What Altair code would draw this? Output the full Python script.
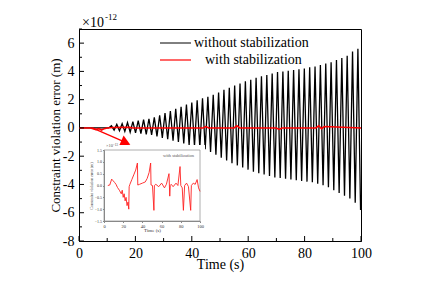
import altair as alt
import pandas as pd

W, H = 282, 212
FONT = "Liberation Serif"

# ---- main series: peaks of the unstabilised oscillation (x1e-12 m) ----
first_peak = 11.5
period = 1.9
upper_amp = [0.15, 0.25, 0.3, 0.38, 0.45, 0.52, 0.58, 0.65, 0.75, 0.9,
             1.05, 1.2, 1.35, 1.5, 1.65, 1.8, 1.95, 2.1, 2.2, 2.35,
             2.5, 2.7, 2.85, 3.0, 3.15, 3.3, 3.4, 3.55, 3.65, 3.75,
             3.85, 3.95, 4.0, 4.05, 4.1, 4.15, 4.2, 4.3, 4.35, 4.45,
             4.55, 4.65, 4.8, 4.95, 5.1, 5.4, 5.6]
lower_amp = [-0.15, -0.2, -0.25, -0.3, -0.35, -0.4, -0.45, -0.5, -0.6, -0.7,
             -0.8, -0.9, -1.0, -1.1, -1.2, -1.3, -1.4, -1.5, -1.7, -1.9,
             -2.1, -2.3, -2.5, -2.65, -2.8, -2.95, -3.1, -3.2, -3.3, -3.4,
             -3.5, -3.55, -3.6, -3.65, -3.7, -3.75, -3.8, -3.85, -3.95, -4.05,
             -4.2, -4.4, -4.6, -4.8, -5.0, -5.3, -5.8]

black_t = [0.0, 10.5]
black_v = [0.0, 0.0]
for k, (u, l) in enumerate(zip(upper_amp, lower_amp)):
    black_t += [first_peak + period * k, first_peak + period * k + period / 2]
    black_v += [u, l]

red_t = [0, 4, 5, 6, 7, 8, 9, 10, 12, 18, 19, 30, 44, 45, 46, 55, 56, 57,
         70, 71, 72, 84, 85, 86, 87, 100]
red_v = [0, 0, -0.05, -0.12, -0.05, -0.15, -0.05, 0.0, 0.03, 0.05, 0.0, 0.0,
         0.0, 0.1, 0.0, 0.0, 0.15, 0.0, 0.0, -0.1, 0.0, 0.0, 0.15, -0.05, 0.1, 0.0]

arrow_start = (4.7, 0.0)
arrow_end = (15.5, -0.93)
arrow_head = (16.6, -1.05)

x_major = [0, 20, 40, 60, 80, 100]
x_minor = [10, 30, 50, 70, 90]
y_major = [-8, -6, -4, -2, 0, 2, 4, 6]
y_minor = [-7, -5, -3, -1, 1, 3, 5, 7]

# ---- inset series (x1e-13 m) ----
inset_t = [4, 6, 8, 9.5, 11, 12.5, 14, 16, 18, 19, 20, 21, 22, 23, 24, 25, 25.8,
           26.2, 27, 29, 31, 33, 34.8, 35.2, 37, 40, 43, 45, 47, 48.6, 49, 50.5,
           52, 52.5, 54, 57, 60, 63, 65, 67.7, 68.5, 69, 70, 72, 75, 77, 79.2, 80,
           81.5, 82.7, 84, 86, 88, 90.3, 91, 93, 95, 97, 98.5, 100]
inset_v = [0.0, 0.02, 0.27, 0.2, 0.13, 0.05, -0.08, -0.2, -0.35, -0.2, -0.5, -0.35,
           -0.65, -0.5, -0.85, -0.7, -1.0,
           -0.05, 0.05, 0.25, 0.45, 0.65, 0.95, 0.02, 0.05, 0.1, 0.15, 0.3, 0.55,
           0.95, 0.02, 0.0, -1.05, 0.0, 0.05, -0.05, 0.1, -0.1, 0.05, 0.5, -0.45,
           0.0, 0.05, -0.05, 0.1, 0.0, 0.8, 0.0, -0.1, -1.05, 0.0, 0.1, -0.05,
           -1.05, 0.0, 0.1, 0.05, 0.25, -0.1, -0.25]
inset_xticks = [0, 20, 40, 60, 80, 100]
inset_yticks = [-1.5, -1.0, -0.5, 0.0, 0.5, 1.0, 1.5]

# ---- shared main encodings ----
xs = alt.Scale(domain=[0, 100], nice=False, zero=False)
ys = alt.Scale(domain=[-8, 7], nice=False, zero=False)
X = alt.X("t:Q", scale=xs, axis=alt.Axis(
    values=x_major, title="Time (s)", ticks=False, labelPadding=5,
    labelExpr="toString(datum.value)",
    labelFont=FONT, labelFontSize=14, labelColor="black", labelFlush=False,
    titleFont=FONT, titleFontSize=14, titleFontWeight="normal", titleColor="black",
    titleBaseline="alphabetic", titleY=27, domainColor="black"))
Y = alt.Y("v:Q", scale=ys, axis=alt.Axis(
    values=y_major, title="Constraint violation error (m)", ticks=False, labelPadding=5,
    labelExpr="toString(datum.value)",
    labelFont=FONT, labelFontSize=14, labelColor="black", labelFlush=False,
    titleFont=FONT, titleFontSize=13, titleFontWeight="normal", titleColor="black",
    titleBaseline="alphabetic", titleX=-20, domainColor="black"))

one = pd.DataFrame({"a": [0]})

black = alt.Chart(pd.DataFrame({"t": black_t, "v": black_v})).mark_line(
    color="black", strokeWidth=1.3).encode(x=X, y=Y)
red = alt.Chart(pd.DataFrame({"t": red_t, "v": red_v})).mark_line(
    color="#ff0000", strokeWidth=1.6).encode(x=X, y=Y)
arrow = alt.Chart(pd.DataFrame({"t": [arrow_start[0]], "v": [arrow_start[1]],
                                "t2": [arrow_end[0]], "v2": [arrow_end[1]]})).mark_rule(
    color="#ff0000", strokeWidth=1.3).encode(x=X, y=Y, x2="t2:Q", y2="v2:Q")
head = alt.Chart(pd.DataFrame({"t": [arrow_head[0]], "v": [arrow_head[1]]})).mark_point(
    shape="triangle-right", angle=24, size=130, filled=True, color="#ff0000", opacity=1
).encode(x=X, y=Y)

xt_maj = alt.Chart(pd.DataFrame({"t": x_major})).mark_rule(color="black").encode(
    x=X, y=alt.value(H), y2=alt.value(H - 5))
xt_min = alt.Chart(pd.DataFrame({"t": x_minor})).mark_rule(color="black").encode(
    x=X, y=alt.value(H), y2=alt.value(H - 3))
yt_maj = alt.Chart(pd.DataFrame({"v": y_major})).mark_rule(color="black").encode(
    y=Y, x=alt.value(0), x2=alt.value(5))
yt_min = alt.Chart(pd.DataFrame({"v": y_minor})).mark_rule(color="black").encode(
    y=Y, x=alt.value(0), x2=alt.value(3))

leg1_line = alt.Chart(one).mark_rule(color="black", strokeWidth=1).encode(
    x=alt.value(81), x2=alt.value(112), y=alt.value(14))
leg2_line = alt.Chart(one).mark_rule(color="#ff0000", strokeWidth=1.2).encode(
    x=alt.value(81), x2=alt.value(112), y=alt.value(31))
leg1_text = alt.Chart(one).mark_text(
    text="without stabilization", font=FONT, fontSize=14, align="left", baseline="middle",
    color="black").encode(x=alt.value(115), y=alt.value(14))
leg2_text = alt.Chart(one).mark_text(
    text="with stabilization", font=FONT, fontSize=14, align="left", baseline="middle",
    color="black").encode(x=alt.value(126), y=alt.value(31))
exp_base = alt.Chart(one).mark_text(
    text="×10", font=FONT, fontSize=14, align="left", baseline="alphabetic",
    color="black").encode(x=alt.value(3), y=alt.value(-2))
exp_sup = alt.Chart(one).mark_text(
    text="-12", font=FONT, fontSize=9, align="left", baseline="alphabetic",
    color="black").encode(x=alt.value(26), y=alt.value(-9))

main = alt.layer(black, red, arrow, head, xt_maj, xt_min, yt_maj, yt_min,
                 leg1_line, leg2_line, leg1_text, leg2_text, exp_base, exp_sup)

# ---- inset ----
IX = alt.X("t:Q", scale=alt.Scale(domain=[0, 100], range=[25, 121], nice=False, zero=False),
           axis=alt.Axis(orient="bottom", offset=-20, values=inset_xticks, title="Time (s)",
                         zindex=2, labelExpr="toString(datum.value)",
                         tickSize=1.5, labelPadding=1, labelFont=FONT, labelFontSize=4.5,
                         labelColor="#333", labelFlush=False, domainColor="#888",
                         tickColor="#888", titleFont=FONT, titleFontSize=5,
                         titleFontWeight="normal", titleColor="#333", titlePadding=-1))
IY = alt.Y("v:Q", scale=alt.Scale(domain=[-1.5, 1.5], range=[192, 121], nice=False, zero=False),
           axis=alt.Axis(orient="left", offset=-25, values=inset_yticks, format=".1f",
                         zindex=2, title="Constraint violation error (m)",
                         tickSize=1.5, labelPadding=1, labelFont=FONT, labelFontSize=4,
                         labelColor="#333", labelFlush=False, domainColor="#888",
                         tickColor="#888", titleFont=FONT, titleFontSize=4,
                         titleFontWeight="normal", titleColor="#333", titlePadding=1))

bg = alt.Chart(one).mark_rect(fill="white").encode(
    x=alt.value(9), x2=alt.value(126), y=alt.value(116), y2=alt.value(205))
frame = alt.Chart(one).mark_rect(fill=None, stroke="#999", strokeWidth=0.8).encode(
    x=alt.value(25), x2=alt.value(121), y=alt.value(121), y2=alt.value(192))
inset_line = alt.Chart(pd.DataFrame({"t": inset_t, "v": inset_v})).mark_line(
    color="#ff2020", strokeWidth=0.9).encode(x=IX, y=IY)
inset_leg = alt.Chart(one).mark_text(
    text="with stabilization", font=FONT, fontSize=4.5, align="left", baseline="middle",
    color="#555").encode(x=alt.value(84), y=alt.value(127))
inset_exp = alt.Chart(one).mark_text(
    text="×10⁻¹³", font=FONT, fontSize=4.5, align="left", baseline="middle",
    color="#555").encode(x=alt.value(27), y=alt.value(117))

inset = alt.layer(bg, frame, inset_line, inset_leg, inset_exp)

chart = alt.layer(main, inset).resolve_scale(x="independent", y="independent").properties(
    width=W, height=H,
    autosize=alt.AutoSizeParams(type="none"),
    padding={"left": 71, "top": 21, "right": 56, "bottom": 35},
).configure_view(stroke="black", strokeWidth=1).configure_axis(
    grid=False, labelFont=FONT, titleFont=FONT)

chart.save("out.html", embed_options={"renderer": "svg", "actions": False})
